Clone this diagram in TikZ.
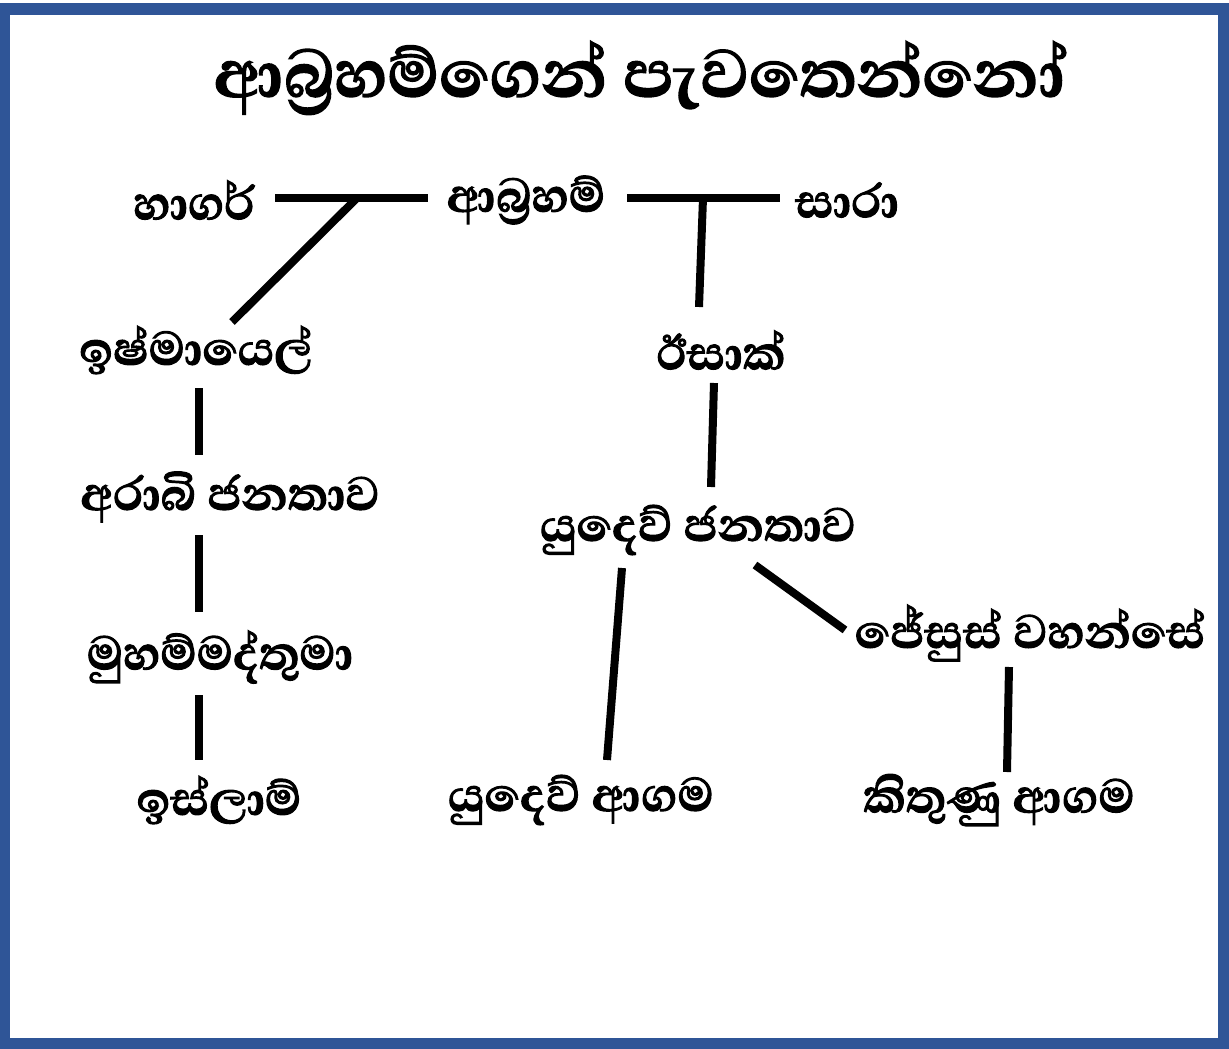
\documentclass[tikz,border=0pt]{standalone}
\usepackage{fontspec}
\newfontfamily\sinhalafont[Script=Sinhala, BoldFeatures={FakeBold=2}]{Abhaya Libre}
\definecolor{frameblue}{HTML}{2F5597}
\begin{document}
\begin{tikzpicture}[x=0.75pt,y=-0.75pt,
  lbl/.style={font=\sinhalafont\bfseries\fontsize{45}{50}\selectfont, inner sep=0pt, anchor=center},
  ttl/.style={font=\sinhalafont\bfseries\fontsize{64}{70}\selectfont, inner sep=0pt, anchor=center},
  conn/.style={line width=6pt, line cap=butt}]
\useasboundingbox (0,0) rectangle (1229,1049);
\fill[white] (0,0) rectangle (1229,1049);
\draw[frameblue, line width=8.3pt] (4.5,9) rectangle (1223.5,1044);

\node[ttl] (title) at (640,78) {ආබ්‍රහම්ගෙන් පැවතෙන්නෝ};

\node[lbl] (hagar) at (194,200) {හාගර්};
\node[lbl] (abraham) at (526,200) {ආබ්‍රහම්};
\node[lbl] (sara) at (847,200) {සාරා};
\node[lbl] (ishmael) at (196,350) {ඉෂ්මායෙල්};
\node[lbl] (isaac) at (721,350) {ඊසාක්};
\node[lbl] (arab) at (230,497) {අරාබි ජනතාව};
\node[lbl] (jewpeople) at (698,530) {යුදෙව් ජනතාව};
\node[lbl] (muhammad) at (220,657) {මුහම්මද්තුමා};
\node[lbl] (jesus) at (1030,633) {ජේසුස් වහන්සේ};
\node[lbl] (islam) at (219,800) {ඉස්ලාම්};
\node[lbl] (judaism) at (581,800) {යුදෙව් ආගම};
\node[lbl] (christ) at (999,800) {කිතුණු ආගම};

% marriage lines
\coordinate (hL) at (275,198);
\coordinate (aL) at (428,198);
\coordinate (aR) at (627,198);
\coordinate (sR) at (780,198);
\coordinate (j1) at (357,198);
\coordinate (j2) at (703,198);
\draw[conn] (hL) -- (aL);
\draw[conn] (aR) -- (sR);
% children
\coordinate (ishTop) at (232,322);
\coordinate (isaTop) at (699,307);
\draw[conn] (j1) -- (ishTop);
\draw[conn] (j2) -- (isaTop);
% left column
\coordinate (c1a) at (199,388); \coordinate (c1b) at (199,455);
\coordinate (c2a) at (199,535); \coordinate (c2b) at (199,612);
\coordinate (c3a) at (199,695); \coordinate (c3b) at (199,760);
\draw[conn] (c1a) -- (c1b);
\draw[conn] (c2a) -- (c2b);
\draw[conn] (c3a) -- (c3b);
% right side
\coordinate (d1a) at (714,383); \coordinate (d1b) at (711,487);
\coordinate (d2a) at (622,568); \coordinate (d2b) at (607,760);
\coordinate (d3a) at (755,565); \coordinate (d3b) at (845,630);
\coordinate (d4a) at (1009,667); \coordinate (d4b) at (1007,772);
\draw[conn] (d1a) -- (d1b);
\draw[conn] (d2a) -- (d2b);
\draw[conn] (d3a) -- (d3b);
\draw[conn] (d4a) -- (d4b);
\end{tikzpicture}
\end{document}
